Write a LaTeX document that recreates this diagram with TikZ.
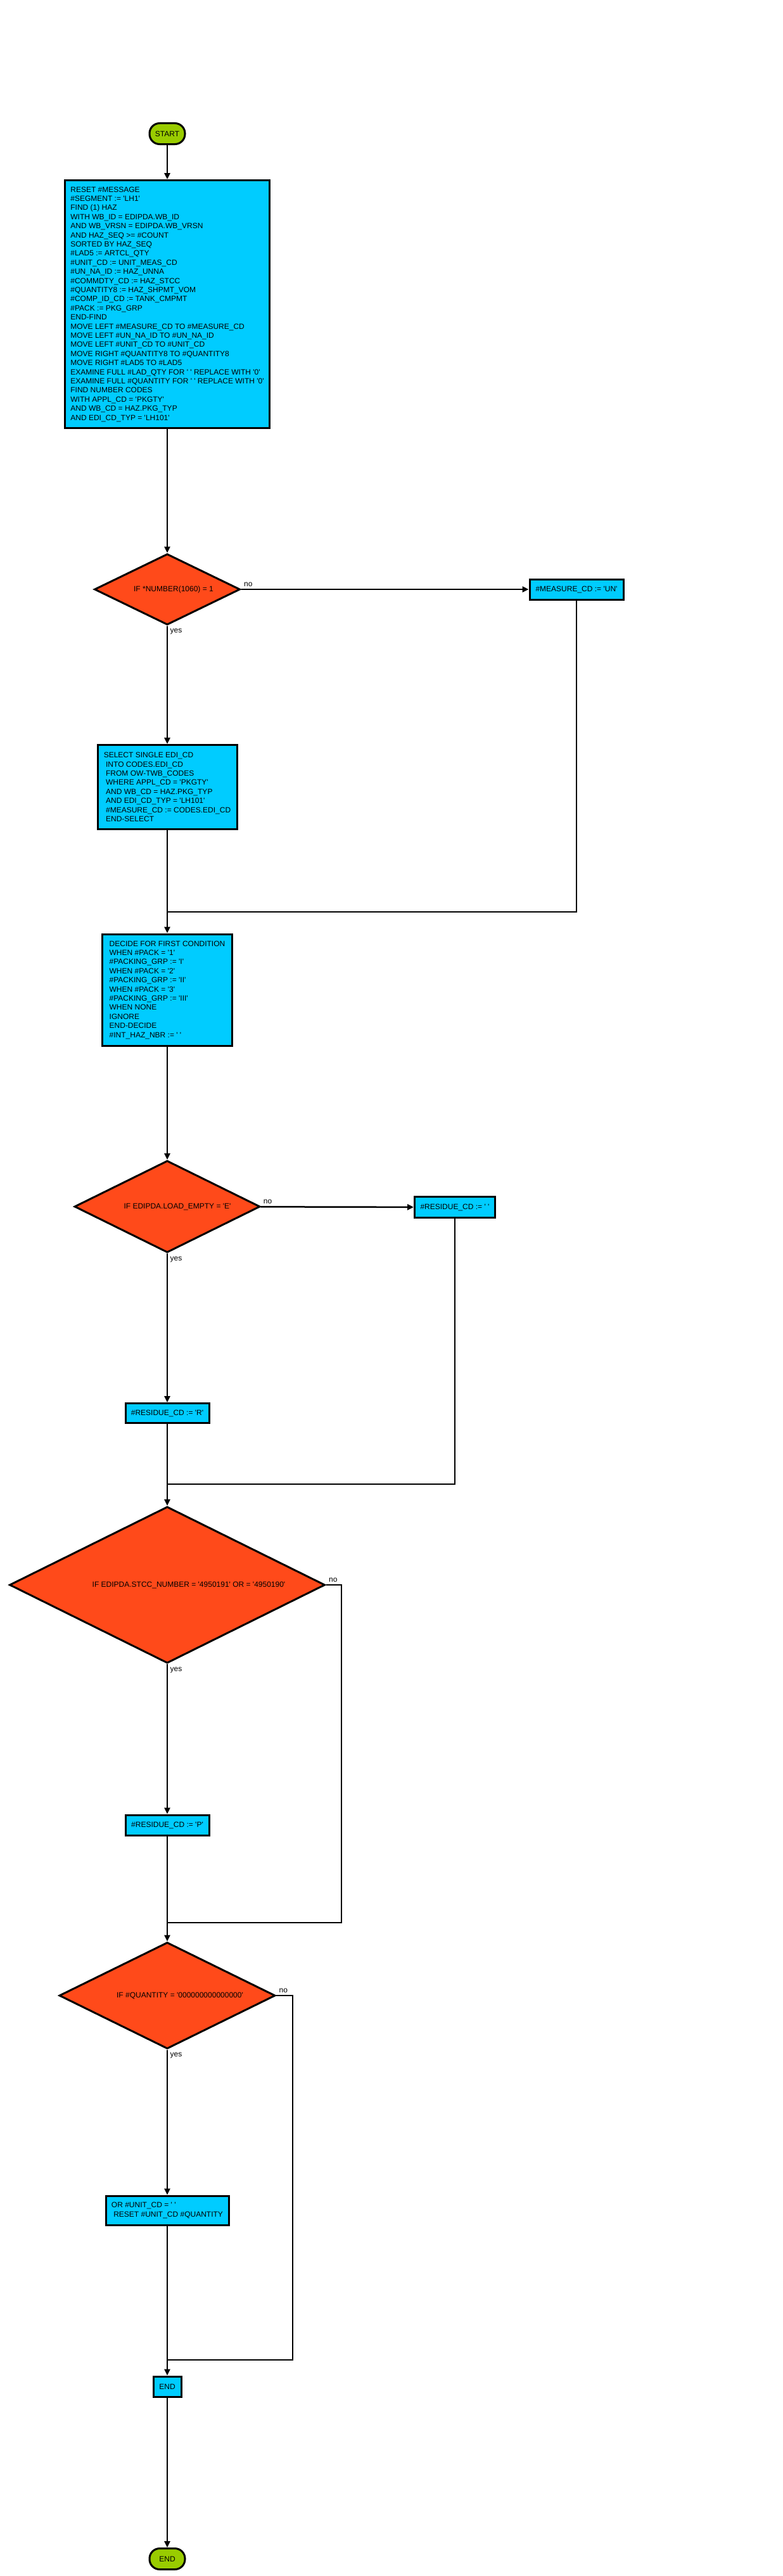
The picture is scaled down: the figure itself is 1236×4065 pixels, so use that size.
\documentclass[tikz,border=0pt]{standalone}
\usepackage{fontspec}
\setmainfont{Liberation Sans}[Ligatures=TeXOff]
\usetikzlibrary{arrows.meta,shapes.geometric}
\definecolor{termgreen}{RGB}{153,204,0}
\definecolor{boxcyan}{RGB}{0,204,255}
\definecolor{testred}{RGB}{255,74,26}
\begin{document}
\begin{tikzpicture}[x=1pt,y=-1pt,>={Triangle[length=10pt,width=9pt]},
    every node/.style={font=\fontsize{12}{14.4}\selectfont},
    term/.style={draw,line width=3pt,fill=termgreen,rounded corners=16pt,minimum width=56pt,minimum height=33pt,inner sep=0pt},
    stepbox/.style={draw,line width=3pt,fill=boxcyan,align=left,inner sep=0pt},
    test/.style={draw,line width=3pt,fill=testred,diamond,aspect=2,inner sep=0pt},
    flow/.style={line width=2.5pt}]
      \useasboundingbox (0,0) rectangle (1236,4065);
      \node[term] (start) at (264,211) {START};
      \node[stepbox,minimum width=323pt,minimum height=391pt] (init) at (264,480) {RESET \#MESSAGE\\
        \#SEGMENT := 'LH1'\\
        FIND (1) HAZ\\
        WITH WB\_ID = EDIPDA.WB\_ID\\
        AND WB\_VRSN = EDIPDA.WB\_VRSN\\
        AND HAZ\_SEQ >= \#COUNT\\
        SORTED BY HAZ\_SEQ\\
        \#LAD5 := ARTCL\_QTY\\
        \#UNIT\_CD := UNIT\_MEAS\_CD\\
        \#UN\_NA\_ID := HAZ\_UNNA\\
        \#COMMDTY\_CD := HAZ\_STCC\\
        \#QUANTITY8 := HAZ\_SHPMT\_VOM\\
        \#COMP\_ID\_CD := TANK\_CMPMT\\
        \#PACK := PKG\_GRP\\
        END-FIND\\
        MOVE LEFT \#MEASURE\_CD TO \#MEASURE\_CD\\
        MOVE LEFT \#UN\_NA\_ID TO \#UN\_NA\_ID\\
        MOVE LEFT \#UNIT\_CD TO \#UNIT\_CD\\
        MOVE RIGHT \#QUANTITY8 TO \#QUANTITY8\\
        MOVE RIGHT \#LAD5 TO \#LAD5\\
        EXAMINE FULL \#LAD\_QTY FOR ' ' REPLACE WITH '0'\\
        EXAMINE FULL \#QUANTITY FOR ' ' REPLACE WITH '0'\\
        FIND NUMBER CODES\\
        WITH APPL\_CD = 'PKGTY'\\
        AND WB\_CD = HAZ.PKG\_TYP\\
        AND EDI\_CD\_TYP = 'LH101'};
      \node[test,minimum width=230pt,minimum height=112pt,
        label={[xshift=10pt]center:IF *NUMBER(1060) = 1}] (num) at (264,930) {};
      \node[stepbox,minimum width=148pt,minimum height=32pt,align=center] (measure) at (910,930) {\#MEASURE\_CD := 'UN'};
      \node[stepbox,minimum width=220pt,minimum height=133pt] (codes) at (264,1242) {SELECT SINGLE EDI\_CD\\
        ~INTO CODES.EDI\_CD\\
        ~FROM OW-TWB\_CODES\\
        ~WHERE APPL\_CD = 'PKGTY'\\
        ~AND WB\_CD = HAZ.PKG\_TYP\\
        ~AND EDI\_CD\_TYP = 'LH101'\\
        ~\#MEASURE\_CD := CODES.EDI\_CD\\
        ~END-SELECT};
      \node[stepbox,minimum width=205pt,minimum height=176pt] (decide) at (264,1562) {DECIDE FOR FIRST CONDITION\\
        WHEN \#PACK = '1'\\
        \#PACKING\_GRP := 'I'\\
        WHEN \#PACK = '2'\\
        \#PACKING\_GRP := 'II'\\
        WHEN \#PACK = '3'\\
        \#PACKING\_GRP := 'III'\\
        WHEN NONE\\
        IGNORE\\
        END-DECIDE\\
        \#INT\_HAZ\_NBR := ' '};
      \node[test,minimum width=293pt,minimum height=145pt,
        label={[xshift=16pt]center:IF EDIPDA.LOAD\_EMPTY = 'E'}] (load) at (264,1904) {};
      \node[stepbox,minimum width=127pt,minimum height=33pt,align=center] (blank) at (718,1905) {\#RESIDUE\_CD := ' '};
      \node[stepbox,minimum width=132pt,minimum height=31pt,align=center] (rescR) at (264,2230) {\#RESIDUE\_CD := 'R'};
      \node[test,minimum width=498pt,minimum height=247pt,
        label={[xshift=34pt]center:IF EDIPDA.STCC\_NUMBER = '4950191' OR = '4950190'}] (stcc) at (264,2501) {};
      \node[stepbox,minimum width=132pt,minimum height=32pt,align=center] (rescP) at (264,2880) {\#RESIDUE\_CD := 'P'};
      \node[test,minimum width=341pt,minimum height=168pt,
        label={[xshift=20pt]center:IF \#QUANTITY = '000000000000000'}] (qty) at (264,3149) {};
      \node[stepbox,minimum width=194pt,minimum height=46pt] (reset) at (264,3488) {OR \#UNIT\_CD = ' '\\
        ~RESET \#UNIT\_CD \#QUANTITY};
      \node[stepbox,minimum width=44pt,minimum height=32pt,align=center] (endbox) at (264,3766) {END};
      \node[term] (stop) at (264,4038) {END};
      \coordinate (j1) at (264,1439);
      \coordinate (j2) at (264,2342);
      \coordinate (j3) at (264,3034);
      \coordinate (j4) at (264,3724);
      \coordinate (n3) at (539,2501);
      \coordinate (n4) at (462,3149);
      \draw[flow,->] (start) -- (init);
      \draw[flow,->] (init) -- (num);
      \draw[flow,->] (num) -- node[pos=0,anchor=south west] {no} (measure);
      \draw[flow,->] (num) -- node[pos=0,anchor=north west] {yes} (codes);
      \draw[flow] (measure) |- (j1);
      \draw[flow,->] (codes) -- (decide);
      \draw[flow,->] (decide) -- (load);
      \draw[flow,->] (load) -- node[pos=0,anchor=south west] {no} (blank);
      \draw[flow,->] (load) -- node[pos=0,anchor=north west] {yes} (rescR);
      \draw[flow] (blank) |- (j2);
      \draw[flow,->] (rescR) -- (stcc);
      \draw[flow] (stcc) -- node[pos=0,anchor=south west] {no} (n3) |- (j3);
      \draw[flow,->] (stcc) -- node[pos=0,anchor=north west] {yes} (rescP);
      \draw[flow,->] (rescP) -- (qty);
      \draw[flow] (qty) -- node[pos=0,anchor=south west] {no} (n4) |- (j4);
      \draw[flow,->] (qty) -- node[pos=0,anchor=north west] {yes} (reset);
      \draw[flow,->] (reset) -- (endbox);
      \draw[flow,->] (endbox) -- (stop);
    \end{tikzpicture}
\end{document}
